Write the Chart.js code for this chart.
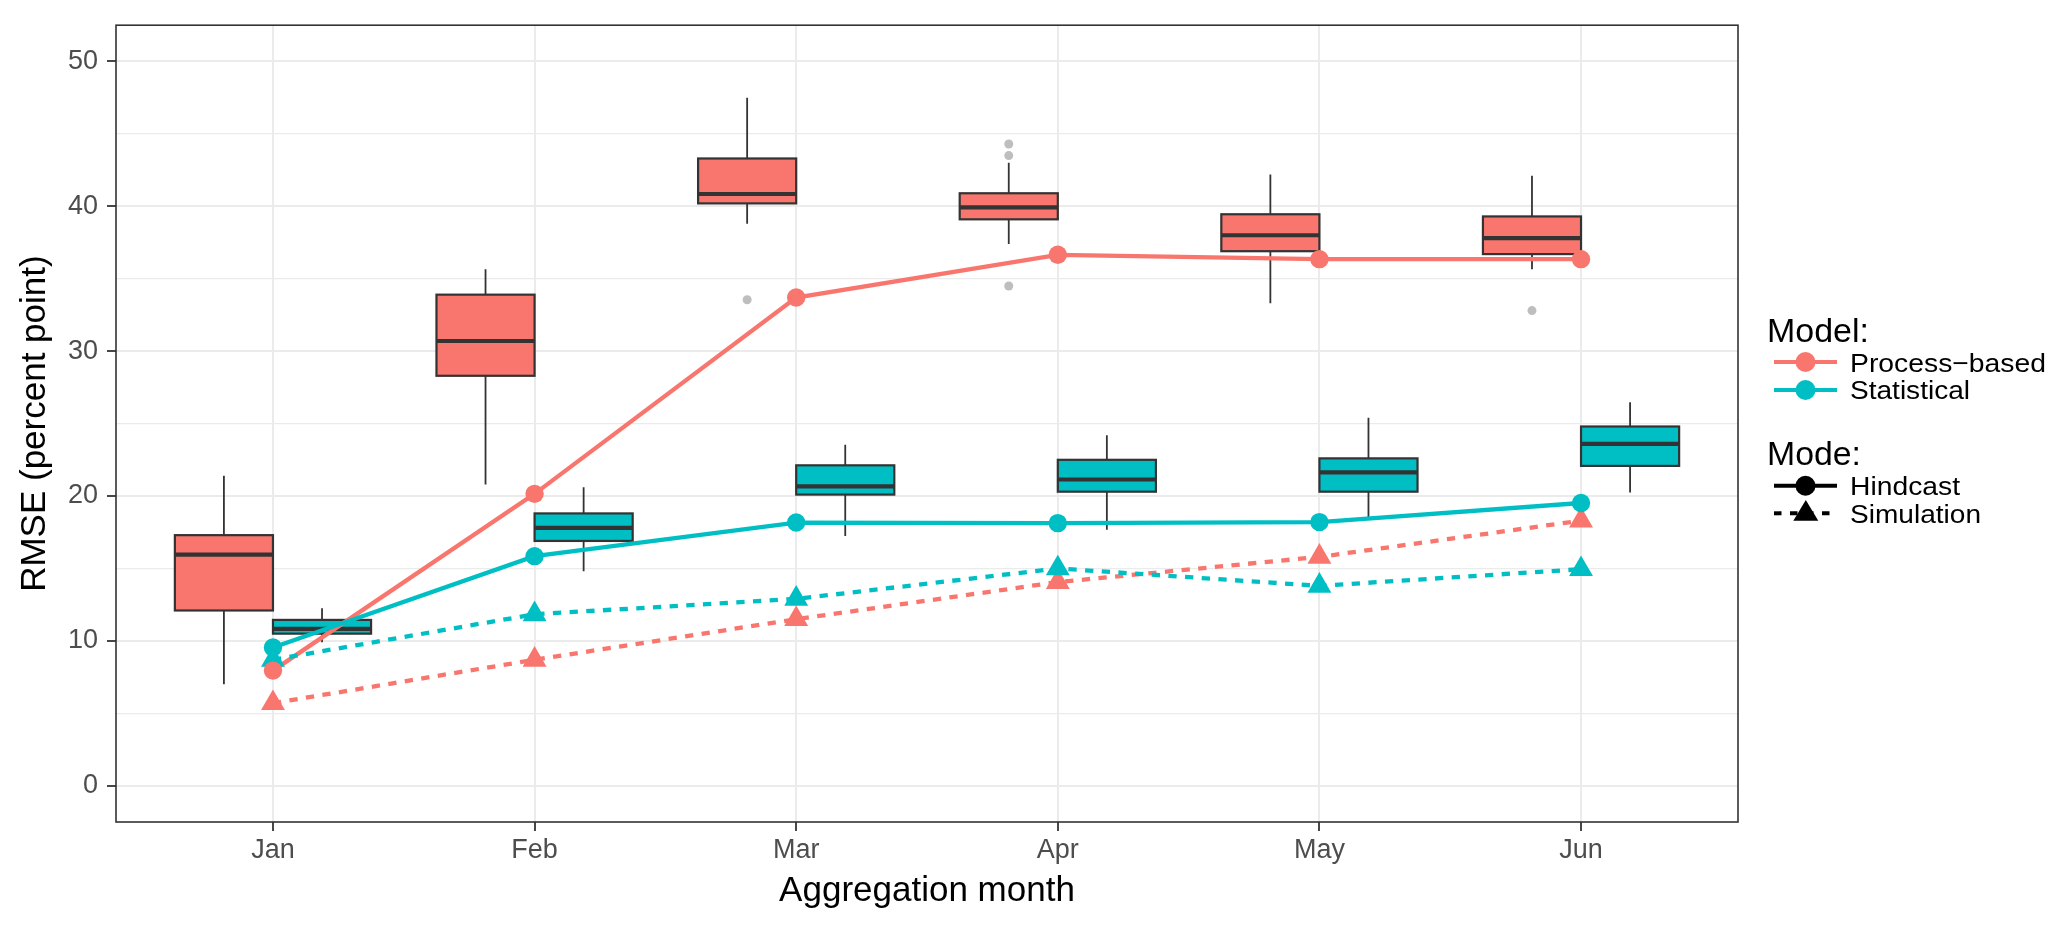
<!DOCTYPE html>
<html><head><meta charset="utf-8">
<script src="https://cdn.jsdelivr.net/npm/chart.js@4.4.1/dist/chart.umd.min.js"></script>
<style>
html,body{margin:0;padding:0;background:#fff;}
#wrap{position:relative;width:2067px;height:930px;overflow:hidden;}
#c{position:absolute;left:0;top:0;}
#legend{position:absolute;left:0;top:0;}
#legend text{font-family:"Liberation Sans",Arial,sans-serif;fill:#000;}
</style></head><body>
<div id="wrap">
<canvas id="c" width="2067" height="930"></canvas>
<svg id="legend" width="2067" height="930" xmlns="http://www.w3.org/2000/svg">
  <text x="1767" y="342" font-size="33" textLength="102" lengthAdjust="spacingAndGlyphs">Model:</text>
  <line x1="1774" y1="362" x2="1837" y2="362" stroke="#F8766D" stroke-width="4"/>
  <circle cx="1805.5" cy="362" r="10" fill="#F8766D"/>
  <text x="1850" y="371.7" font-size="26.5" textLength="196" lengthAdjust="spacingAndGlyphs">Process−based</text>
  <line x1="1774" y1="390" x2="1837" y2="390" stroke="#00BFC4" stroke-width="4"/>
  <circle cx="1805.5" cy="390" r="10" fill="#00BFC4"/>
  <text x="1850" y="399.4" font-size="26.5" textLength="120" lengthAdjust="spacingAndGlyphs">Statistical</text>
  <text x="1767" y="465" font-size="33" textLength="94" lengthAdjust="spacingAndGlyphs">Mode:</text>
  <line x1="1774" y1="485.7" x2="1837" y2="485.7" stroke="#000" stroke-width="4"/>
  <circle cx="1805.5" cy="485.7" r="10" fill="#000"/>
  <text x="1850" y="495" font-size="26.5" textLength="110" lengthAdjust="spacingAndGlyphs">Hindcast</text>
  <line x1="1774" y1="513.3" x2="1837" y2="513.3" stroke="#000" stroke-width="4" stroke-dasharray="7.5,8.5"/>
  <polygon points="1805.8,500 1818.3,520.8 1793.3,520.8" fill="#000"/>
  <text x="1850" y="522.7" font-size="26.5" textLength="131" lengthAdjust="spacingAndGlyphs">Simulation</text>
</svg>
</div>
<script>
// ---------- data ----------
const months = ['Jan', 'Feb', 'Mar', 'Apr', 'May', 'Jun'];
const yTickValues = [0, 10, 20, 30, 40, 50];
const yMinorValues = [5, 15, 25, 35, 45];

// lines (model RMSE)
const processHindcast   = [7.95, 20.15, 33.7, 36.65, 36.35, 36.35];
const processSimulation = [5.7, 8.7, 11.5, 14.06, 15.8, 18.3];
const statHindcast      = [9.55, 15.85, 18.17, 18.13, 18.2, 19.52];
const statSimulation    = [8.7, 11.84, 12.9, 15.0, 13.8, 14.95];

// boxplots: [lower whisker, Q1, median, Q3, upper whisker]
const processBox = [
  [7.0, 12.1, 15.95, 17.3, 21.4],
  [20.8, 28.3, 30.7, 33.9, 35.65],
  [38.8, 40.2, 40.85, 43.3, 47.5],
  [37.4, 39.1, 39.93, 40.9, 43.0],
  [33.3, 36.9, 38.0, 39.45, 42.2],
  [35.65, 36.7, 37.8, 39.3, 42.1]
];
const statBox = [
  [9.9, 10.5, 10.83, 11.45, 12.25],
  [14.8, 16.9, 17.8, 18.8, 20.6],
  [17.24, 20.1, 20.66, 22.12, 23.54],
  [17.67, 20.3, 21.14, 22.5, 24.2],
  [18.56, 20.3, 21.64, 22.6, 25.4],
  [20.25, 22.08, 23.6, 24.8, 26.48]
];
const processOutliers = [[], [], [33.55], [44.3, 43.5, 34.5], [], [32.8]];
const statOutliers    = [[], [], [], [], [], []];

// ---------- styling ----------
const RED = '#F8766D', TEAL = '#00BFC4';
const FONT = '"Liberation Sans", Arial, sans-serif';
const DODGE = 0.1875, HALF = 0.1875;

const xy = arr => arr.map((v, i) => ({x: i + 1, y: v}));
const outlierPts = (outs, off) => outs.flatMap((list, i) => list.map(v => ({x: i + 1 + off, y: v})));

const boxGroups = [
  {stats: processBox, offset: -DODGE, fill: RED},
  {stats: statBox, offset: DODGE, fill: TEAL}
];

const boxPlugin = {
  id: 'boxes',
  beforeDatasetsDraw(chart) {
    const {ctx, chartArea: a, scales: {x, y}} = chart;
    ctx.save();
    ctx.beginPath(); ctx.rect(a.left, a.top, a.right - a.left, a.bottom - a.top); ctx.clip();
    ctx.strokeStyle = '#333333';
    boxGroups.forEach(g => {
      g.stats.forEach((s, i) => {
        const c = i + 1 + g.offset;
        const xc = x.getPixelForValue(c);
        const xl = x.getPixelForValue(c - HALF);
        const xr = x.getPixelForValue(c + HALF);
        const [lo, q1, med, q3, hi] = s.map(v => y.getPixelForValue(v));
        ctx.lineWidth = 1.8;
        ctx.beginPath();
        ctx.moveTo(xc, q3); ctx.lineTo(xc, hi);
        ctx.moveTo(xc, q1); ctx.lineTo(xc, lo);
        ctx.stroke();
        ctx.fillStyle = g.fill;
        ctx.fillRect(xl, q3, xr - xl, q1 - q3);
        ctx.lineWidth = 2.2;
        ctx.strokeRect(xl, q3, xr - xl, q1 - q3);
        ctx.lineWidth = 4.2;
        ctx.beginPath(); ctx.moveTo(xl, med); ctx.lineTo(xr, med); ctx.stroke();
      });
    });
    ctx.restore();
  },
  afterDraw(chart) {
    const {ctx, chartArea: a} = chart;
    ctx.save();
    ctx.strokeStyle = '#333333';
    ctx.lineWidth = 1.6;
    ctx.strokeRect(a.left, a.top, a.right - a.left, a.bottom - a.top);
    ctx.restore();
  }
};

const lineDs = (data, color, dashed, order) => ({
  type: 'line', data: xy(data), borderColor: color, borderWidth: 4.3,
  borderDash: dashed ? [8.3, 8.4] : [], pointRadius: 0, fill: false, tension: 0, order
});
const pointDs = (data, color, style, r, order) => ({
  type: 'line', data: xy(data), showLine: false, pointStyle: style, pointRadius: r,
  pointBackgroundColor: color, pointBorderWidth: 0, borderWidth: 0, order
});

new Chart(document.getElementById('c'), {
  type: 'line',
  data: {
    datasets: [
      {type: 'scatter', data: outlierPts(processOutliers, -DODGE).concat(outlierPts(statOutliers, DODGE)),
       pointRadius: 4.5, pointBackgroundColor: '#BEBEBE', pointBorderWidth: 0, borderWidth: 0, order: 100},
      lineDs(processHindcast, RED, false, 50),
      lineDs(processSimulation, RED, true, 49),
      lineDs(statHindcast, TEAL, false, 48),
      lineDs(statSimulation, TEAL, true, 47),
      pointDs(processSimulation, RED, 'triangle', 13.8, 40),
      pointDs(statSimulation, TEAL, 'triangle', 13.8, 39),
      pointDs(processHindcast, RED, 'circle', 9.2, 38),
      pointDs(statHindcast, TEAL, 'circle', 9.2, 37)
    ]
  },
  options: {
    responsive: false, animation: false, devicePixelRatio: 1,
    layout: {padding: {top: 21, right: 329, bottom: 18, left: 0}},
    plugins: {legend: {display: false}, tooltip: {enabled: false}},
    scales: {
      x: {
        type: 'linear', min: 0.4, max: 6.6,
        afterFit(s) { s.height = 90; },
        afterBuildTicks(s) { s.ticks = months.map((m, i) => ({value: i + 1})); },
        ticks: {callback: v => months[v - 1], color: '#4D4D4D', font: {family: FONT, size: 27}, padding: 3, maxRotation: 0, autoSkip: false},
        grid: {color: '#EBEBEB', lineWidth: 2, tickColor: '#333333', tickLength: 9, tickWidth: 1.8},
        border: {display: false},
        title: {display: true, text: 'Aggregation month', color: '#000', font: {family: FONT, size: 35}, padding: {top: 0, bottom: 0}}
      },
      y: {
        type: 'linear', min: -2.5, max: 52.5,
        afterFit(s) { s.width = 116; },
        afterBuildTicks(s) { s.ticks = yTickValues.concat(yMinorValues).sort((a, b) => a - b).map(v => ({value: v})); },
        ticks: {callback: v => yTickValues.includes(v) ? String(v) : '', color: '#4D4D4D', font: {family: FONT, size: 27}, padding: 9, autoSkip: false},
        grid: {
          color: '#EBEBEB',
          lineWidth: c => (c.tick && yTickValues.includes(c.tick.value)) ? 2 : 1.2,
          tickColor: c => (c.tick && yTickValues.includes(c.tick.value)) ? '#333333' : 'rgba(0,0,0,0)',
          tickLength: 9, tickWidth: 1.8
        },
        border: {display: false},
        title: {display: true, text: 'RMSE (percent point)', color: '#000', font: {family: FONT, size: 35}, padding: {top: 14, bottom: 0}}
      }
    }
  },
  plugins: [boxPlugin]
});
</script>
</body></html>
